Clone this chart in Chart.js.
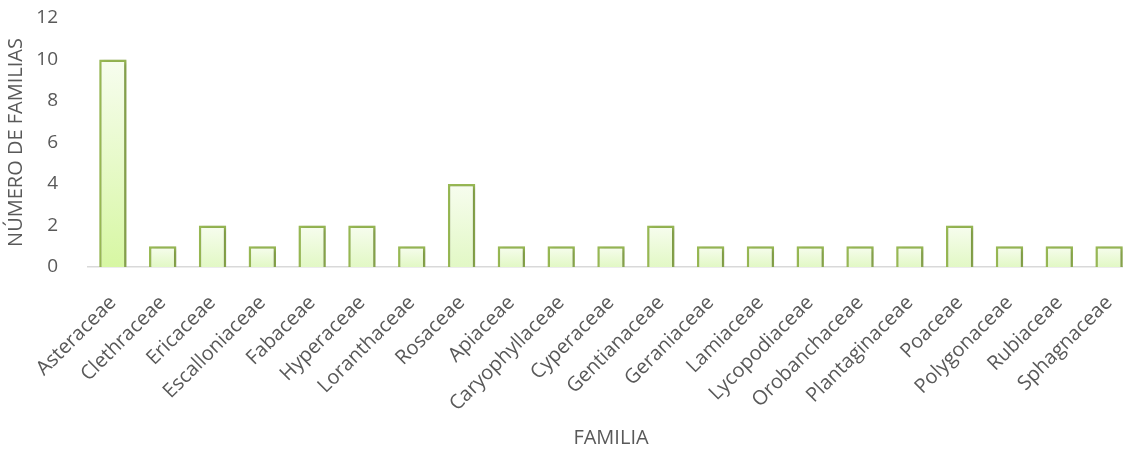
<!DOCTYPE html>
<html>
<head>
<meta charset="utf-8">
<script src="https://cdn.jsdelivr.net/npm/chart.js@4.4.1/dist/chart.umd.min.js"></script>
<style>
  html, body { margin: 0; padding: 0; background: #fff; overflow: hidden; }
  #wrap { width: 1134px; height: 451px; }
</style>
</head>
<body>
<div id="wrap"><canvas id="famChart"></canvas></div>
<script>
const familias = ['Asteraceae', 'Clethraceae', 'Ericaceae', 'Escalloniaceae', 'Fabaceae', 'Hyperaceae',
  'Loranthaceae', 'Rosaceae', 'Apiaceae', 'Caryophyllaceae', 'Cyperaceae', 'Gentianaceae', 'Geraniaceae',
  'Lamiaceae', 'Lycopodiaceae', 'Orobanchaceae', 'Plantaginaceae', 'Poaceae', 'Polygonaceae', 'Rubiaceae',
  'Sphagnaceae'];
const numero = [10, 1, 2, 1, 2, 2, 1, 4, 1, 1, 1, 2, 1, 1, 1, 1, 1, 2, 1, 1, 1];
const yTicks = [0, 2, 4, 6, 8, 10, 12];

const gris = '#595959';
const fuente = "'Open Sans', sans-serif";

// per-bar vertical gradient: pale at the top, greener at the base
function barFill(context) {
  const chart = context.chart;
  const y = chart.scales.y;
  if (!y || !chart.chartArea || !context.parsed) return '#e6f9c8';
  const top = y.getPixelForValue(context.parsed.y);
  const bottom = y.getPixelForValue(0);
  if (!isFinite(top) || !isFinite(bottom) || bottom - top < 1) return '#e6f9c8';
  const max = y.getPixelForValue(10);
  const g = chart.ctx.createLinearGradient(0, top, 0, bottom);
  const depth = (bottom - top) / (bottom - max);
  g.addColorStop(0, '#f7fdef');
  g.addColorStop(1, depth > 0.5 ? '#d7f7a3' : '#e2f8c5');
  return g;
}

const sombra = {
  id: 'sombra',
  beforeDatasetsDraw(chart) {
    const ctx = chart.ctx;
    ctx.save();
    ctx.shadowColor = 'rgba(0,0,0,0.22)';
    ctx.shadowBlur = 4;
    ctx.shadowOffsetX = 2;
    ctx.shadowOffsetY = 1;
  },
  afterDatasetsDraw(chart) {
    chart.ctx.restore();
  }
};

new Chart(document.getElementById('famChart'), {
  type: 'bar',
  data: {
    labels: familias,
    datasets: [{
      data: numero,
      backgroundColor: barFill,
      borderColor: '#98b954',
      borderWidth: 2.5,
      categoryPercentage: 1,
      barPercentage: 0.55
    }]
  },
  plugins: [sombra],
  options: {
    responsive: true,
    maintainAspectRatio: false,
    animation: false,
    layout: { padding: { top: 18, right: 0, left: 0, bottom: 1 } },
    plugins: { legend: { display: false }, tooltip: { enabled: false } },
    scales: {
      x: {
        grid: { display: false },
        border: { display: true, color: '#d9d9d9', width: 1.5 },
        ticks: {
          color: gris,
          font: { family: fuente, size: 20 },
          maxRotation: 45,
          minRotation: 45,
          autoSkip: false,
          padding: 16
        },
        afterFit(axis) {
          // rotated labels may overhang the plot on the left
          axis.paddingLeft = 0;
          axis.paddingRight = 0;
          axis.height = 183;
        },
        title: {
          display: true,
          text: 'FAMILIA',
          color: gris,
          font: { family: fuente, size: 20 },
          padding: { top: 8, bottom: 0 }
        }
      },
      y: {
        min: 0,
        max: 12,
        afterBuildTicks(axis) { axis.ticks = yTicks.map(v => ({ value: v })); },
        afterFit(axis) {
          axis.width = 88;
          axis.paddingTop = 0;
          axis.paddingBottom = 0;
        },
        grid: { display: false },
        border: { display: false },
        ticks: {
          color: gris,
          font: { family: fuente, size: 19 },
          padding: 22
        },
        title: {
          display: true,
          text: 'NÚMERO DE FAMILIAS',
          color: gris,
          font: { family: fuente, size: 20 },
          padding: { top: 4, bottom: 4 }
        }
      }
    }
  }
});
</script>
</body>
</html>
